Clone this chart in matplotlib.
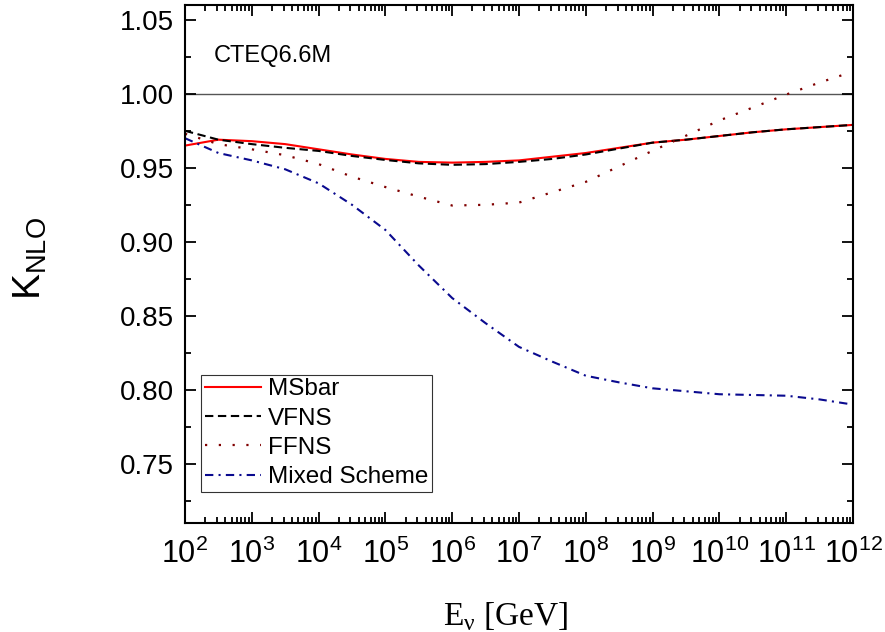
import matplotlib
matplotlib.use("Agg")
import matplotlib.pyplot as plt
import numpy as np
from matplotlib.ticker import LogLocator, MultipleLocator, FormatStrFormatter

plt.rcParams["font.family"] = ["Liberation Sans", "DejaVu Sans"]
plt.rcParams["mathtext.fontset"] = "custom"
plt.rcParams["mathtext.rm"] = "Liberation Sans"
plt.rcParams["mathtext.it"] = "Liberation Sans:italic"

# data (log10 of neutrino energy in GeV)
log_e = [2, 2.5, 3, 3.5, 4, 4.5, 5, 5.5, 6, 6.5, 7, 7.5, 8, 8.5, 9, 9.5, 10, 10.5, 11, 11.5, 12]

k_msbar = [0.965, 0.969, 0.968, 0.966, 0.9625, 0.959, 0.956, 0.954, 0.9535, 0.954, 0.955,
           0.9575, 0.960, 0.9635, 0.967, 0.969, 0.9715, 0.974, 0.976, 0.9775, 0.979]
k_vfns = [0.975, 0.969, 0.966, 0.9635, 0.9614, 0.958, 0.9553, 0.953, 0.952, 0.9525, 0.954,
          0.956, 0.959, 0.963, 0.967, 0.969, 0.9715, 0.974, 0.976, 0.9775, 0.979]
k_ffns = [0.973, 0.966, 0.9625, 0.9585, 0.9525, 0.944, 0.937, 0.9305, 0.9245, 0.925, 0.9265,
          0.9335, 0.9405, 0.951, 0.9615, 0.9717, 0.982, 0.9907, 0.9995, 1.0076, 1.015]
k_mixed = [0.970, 0.960, 0.955, 0.949, 0.9395, 0.925, 0.908, 0.884, 0.862, 0.845, 0.829,
           0.819, 0.8095, 0.805, 0.801, 0.799, 0.797, 0.7965, 0.796, 0.7935, 0.790]

energy = 10.0 ** np.array(log_e)

fig = plt.figure(figsize=(8.85, 6.32), dpi=100)
ax = fig.add_axes([185 / 885, 1 - 523 / 632, 668 / 885, 518 / 632])

ax.axhline(1.0, color="#555555", lw=1.0, zorder=1)

ax.plot(energy, k_msbar, color="#ff0000", lw=1.5, label="MSbar")
ax.plot(energy, k_vfns, color="black", lw=1.5, ls=(0, (4, 2.2)), label="VFNS")
ax.plot(energy, k_ffns, color="#800000", lw=1.6, ls=(0, (1, 5.2)), label="FFNS")
ax.plot(energy, k_mixed, color="#0a0a8f", lw=1.5, ls=(0, (4, 2.5, 1, 2.5)), label="Mixed Scheme")

ax.set_xscale("log")
ax.set_xlim(1e2, 1e12)
ax.set_ylim(0.71, 1.06)

ax.xaxis.set_major_locator(LogLocator(base=10, numticks=20))
ax.xaxis.set_minor_locator(LogLocator(base=10, subs=np.arange(2, 10), numticks=20))
ax.yaxis.set_major_locator(MultipleLocator(0.05))
ax.yaxis.set_minor_locator(MultipleLocator(0.025))
ax.yaxis.set_major_formatter(FormatStrFormatter("%.2f"))

ax.tick_params(which="both", direction="in", top=True, right=True, width=1.3)
ax.tick_params(which="major", length=8)
ax.tick_params(which="minor", length=4)
ax.tick_params(axis="y", labelsize=20, pad=8)
ax.tick_params(axis="x", labelsize=22, pad=11)
for sp in ax.spines.values():
    sp.set_linewidth(1.5)

ax.text(0.043, 0.89, "CTEQ6.6M", transform=ax.transAxes, fontsize=17)

ax.set_ylabel(r"$\mathrm{K}_{\mathrm{NLO}}$", fontsize=28)
ax.yaxis.set_label_coords(-0.203, 0.51)
ax.set_xlabel(r"E$_{\mathregular{ν}}$ [GeV]", fontsize=24, family="Liberation Serif")
ax.xaxis.set_label_coords(0.48, -0.15)

leg = ax.legend(loc="lower left", bbox_to_anchor=(0.024, 0.06), borderaxespad=0,
                fontsize=17.5, frameon=True, fancybox=False, handlelength=2.3,
                handletextpad=0.3, labelspacing=0.3, borderpad=0.15)
leg.get_frame().set_edgecolor("black")
leg.get_frame().set_linewidth(0.8)

fig.savefig("out.png", dpi=100)
